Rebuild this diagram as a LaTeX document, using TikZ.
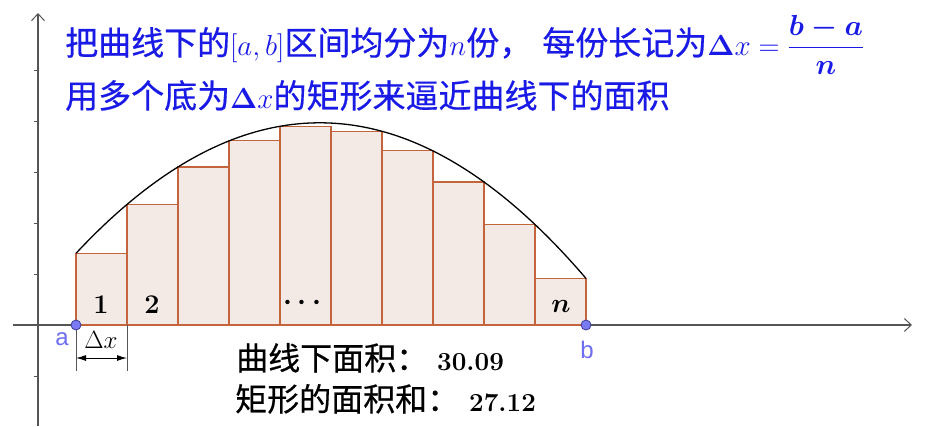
\RequirePackage{fix-cm}
\documentclass[tikz,border=0pt]{standalone}
\usepackage{amsmath}
\usepackage[no-math]{fontspec}
\newfontfamily\cjk[FakeBold=0.5]{Noto Sans CJK SC}
\newfontfamily\labelsans{Liberation Sans}
\newcommand\tcjk[1]{{\cjk\fontsize{33}{38}\selectfont #1}}
\usetikzlibrary{arrows.meta}
\definecolor{titleblue}{RGB}{26,26,230}
\definecolor{axisgray}{RGB}{85,85,85}
\definecolor{rectedge}{RGB}{196,100,60}
\definecolor{rectfill}{RGB}{244,234,229}
\definecolor{ptfill}{RGB}{122,122,245}
\definecolor{ptdraw}{RGB}{60,60,150}
\definecolor{ptlabel}{RGB}{110,110,240}
\tikzset{
  axisline/.style={axisgray, line width=1.1pt, -{Straight Barb[length=7pt,width=13pt,line width=1pt]}},
  tickline/.style={axisgray, line width=1pt},
  rectstyle/.style={draw=rectedge, fill=rectfill, line width=1.1pt},
  curveline/.style={black, line width=1.3pt},
  ptstyle/.style={circle, inner sep=0pt, minimum size=10pt, fill=ptfill, draw=ptdraw, line width=0.8pt},
  ptlab/.style={text=ptlabel, inner sep=0pt, anchor=base, font=\labelsans\fontsize{24}{28}\selectfont},
  titletext/.style={anchor=base west, inner sep=0pt, text=titleblue, font=\fontsize{29}{38}\selectfont},
  bottomcjk/.style={anchor=base west, inner sep=0pt, font=\cjk\fontsize{32}{36}\selectfont},
  bottomnum/.style={anchor=base west, inner sep=0pt, font=\bfseries\fontsize{26}{30}\selectfont},
  rectlab/.style={anchor=base, inner sep=0pt, font=\bfseries\fontsize{27}{30}\selectfont},
  dimline/.style={black, line width=1pt},
  extline/.style={axisgray, line width=1pt}
}
\begin{document}
\begin{tikzpicture}[x=1pt,y=-1pt]
\useasboundingbox (0,0) rectangle (926,426);
\fill[white] (0,0) rectangle (926,426);
% axes
\coordinate (xs) at (13,325);
\coordinate (xe) at (912,325);
\coordinate (ys) at (38,426);
\coordinate (ye) at (38,13);
\draw[axisline] (xs) -- (xe);
\draw[axisline] (ys) -- (ye);
\foreach \k in {-1,1,2,3,4,5}{
  \draw[tickline] (34,{325-51*\k}) -- (38,{325-51*\k});
}
% rectangles (lower sum)
\foreach \i in {0,...,9}{
  \pgfmathsetmacro\xl{76+51*\i}
  \pgfmathsetmacro\xr{127+51*\i}
  \pgfmathsetmacro\dl{(\xl-319.8)/100}
  \pgfmathsetmacro\dr{(\xr-319.8)/100}
  \pgfmathsetmacro\hl{202.2-21.96*(\dl)*(\dl)}
  \pgfmathsetmacro\hr{202.2-21.96*(\dr)*(\dr)}
  \pgfmathsetmacro\hh{min(\hl,\hr)}
  \draw[rectstyle] (\xl,325) rectangle (\xr,{325-\hh});
}
% curve
\draw[curveline] plot[domain=76:586, samples=120, smooth] (\x, {325-202.2+21.96*((\x-319.8)/100)*((\x-319.8)/100)});
% rectangle labels
\node[rectlab] (l1) at (101,313) {1};
\node[rectlab] (l2) at (152,313) {2};
\node[inner sep=0pt, font=\fontsize{28}{30}\selectfont] (ld) at (305,303) {$\boldsymbol{\cdots}$};
\node[rectlab] (ln) at (561,312) {$\boldsymbol{n}$};
% dimension
\coordinate (e1t) at (76,325);
\coordinate (e1b) at (76,371);
\coordinate (e2t) at (127,325);
\coordinate (e2b) at (127,371);
\draw[extline] (e1t) -- (e1b);
\draw[extline] (e2t) -- (e2b);
\coordinate (d1) at (76,358);
\coordinate (d2) at (127,358);
\draw[dimline, {Latex[length=10pt,width=6pt]}-{Latex[length=10pt,width=6pt]}] (d1) -- (d2);
\node[inner sep=0pt, anchor=base, font=\fontsize{25}{30}\selectfont] (dx) at (101,348) {$\Delta x$};
% points
\node[ptstyle] (A) at (76,325) {};
\node[ptstyle] (B) at (586,325) {};
\node[ptlab] (la) at (62,345) {a};
\node[ptlab] (lb) at (587,358) {b};
% title
\node[titletext] (t1) at (65,55) {\tcjk{把曲线下的}$[a,b]$\tcjk{区间均分为}$n$\tcjk{份，}\hspace{10pt}\tcjk{每份长记为}$\mathbf{\Delta}x=\dfrac{\boldsymbol{b-a}}{\boldsymbol{n}}$};
\node[titletext] (t2) at (65,108) {\tcjk{用多个底为}$\mathbf{\Delta}x$\tcjk{的矩形来逼近曲线下的面积}};
% bottom
\node[bottomcjk] (c1) at (236,370) {曲线下面积：};
\node[bottomnum] (v1) at (437,370) {30.09};
\node[bottomcjk] (c2) at (235,411) {矩形的面积和：};
\node[bottomnum] (v2) at (469,411) {27.12};
\end{tikzpicture}
\end{document}
